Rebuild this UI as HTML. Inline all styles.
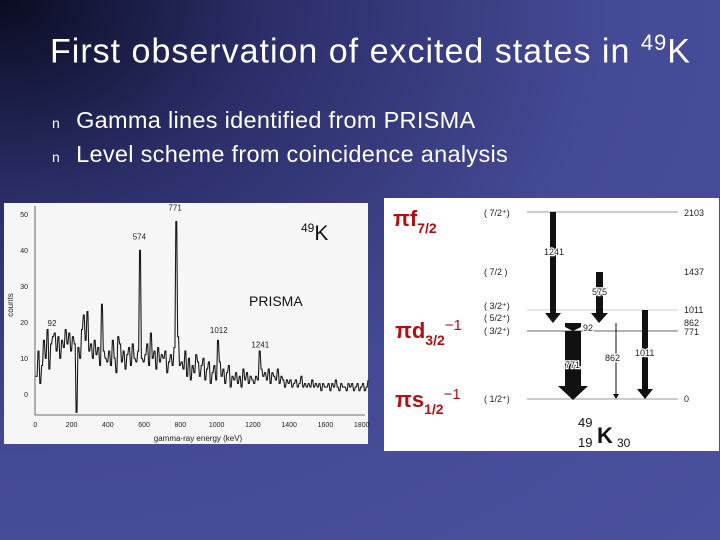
<!DOCTYPE html>
<html><head><meta charset="utf-8">
<style>
html,body{margin:0;padding:0}
body{width:720px;height:540px;overflow:hidden;position:relative;font-family:"Liberation Sans",sans-serif;
background:radial-gradient(ellipse at 0% 0%,#0a0c22 0%,#2a2d66 25%,#454a96 60%,#4b509e 100%);}
.t{position:absolute;color:#fff;white-space:nowrap}
</style></head><body>
<div class="t" style="left:50px;top:30px;font-size:34px;letter-spacing:1px">First observation of excited states in <sup style="font-size:22px">49</sup>K</div>
<div class="t" style="left:52px;top:107px;font-size:23.5px;letter-spacing:0.3px"><span style="font-size:14px;margin-right:16px">n</span>Gamma lines identified from PRISMA</div>
<div class="t" style="left:52px;top:141px;font-size:23.5px;letter-spacing:0.3px"><span style="font-size:14px;margin-right:16px">n</span>Level scheme from coincidence analysis</div>

<svg style="position:absolute;left:0;top:0" width="720" height="540">
<rect x="4" y="203" width="364" height="241" fill="#f6f6f6"/>
<g id="plot"></g>
</svg>

<svg style="position:absolute;left:0;top:0" width="720" height="540" font-family="Liberation Sans, sans-serif">
<rect x="384" y="198" width="335" height="253" fill="#fff"/>
<g fill="#b01010" font-weight="bold" font-size="22">
<text x="393" y="226">πf<tspan font-size="14" dy="7">7/2</tspan></text>
<text x="395" y="338">πd<tspan font-size="14" dy="7">3/2</tspan><tspan font-size="15" font-weight="normal" dy="-15">−1</tspan></text>
<text x="395" y="407">πs<tspan font-size="14" dy="7">1/2</tspan><tspan font-size="15" font-weight="normal" dy="-15">−1</tspan></text>
</g>
<g stroke="#999" stroke-width="1">
<line x1="527" y1="212" x2="678" y2="212"/><line x1="527" y1="310" x2="678" y2="310" stroke="#ccc"/>
<line x1="527" y1="331" x2="678" y2="331" stroke="#666"/><line x1="527" y1="399" x2="678" y2="399"/>
</g>
<g font-size="9" fill="#222">
<text x="484" y="216">( 7/2⁺)</text><text x="484" y="275">( 7/2 )</text><text x="484" y="309">( 3/2⁺)</text>
<text x="484" y="321">( 5/2⁺)</text><text x="484" y="334">( 3/2⁺)</text><text x="484" y="402">( 1/2⁺)</text>
<text x="684" y="216">2103</text><text x="684" y="275">1437</text><text x="684" y="313">1011</text>
<text x="684" y="326">862</text><text x="684" y="335">771</text><text x="684" y="402">0</text>
</g>
<g fill="#111">
<rect x="550" y="212" width="6" height="102"/><polygon points="545,313 561,313 553,323"/>
<rect x="596" y="272" width="7" height="42"/><polygon points="591,313 608,313 599,323"/>
<polygon points="565,323 581,323 581,327 573,331 565,327"/>
<rect x="565" y="331" width="16" height="56"/><polygon points="558,386 588,386 573,400"/>
<line x1="616" y1="323" x2="616" y2="396" stroke="#111" stroke-width="1"/><polygon points="613,394 619,394 616,399"/>
<rect x="642" y="310" width="6" height="80"/><polygon points="637,389 653,389 645,399"/>
</g>
<g font-size="9" fill="#222" stroke="#fff" stroke-width="2.5" paint-order="stroke">
<text x="544" y="255">1241</text>
<text x="592" y="295">575</text><text x="583" y="331">92</text>
<text x="565" y="368">771</text><text x="605" y="361">862</text><text x="635" y="356">1011</text>
</g>
<text x="578" y="427" font-size="13" fill="#111">49</text><text x="578" y="447" font-size="13" fill="#111">19</text>
<text x="597" y="443" font-size="22" font-weight="bold" fill="#111">K</text><text x="617" y="447" font-size="12" fill="#111">30</text>
</svg>

<script>
const binWidth = 10;
const counts = [5,12,3,8,15,10,18,7,14,16, 17,12,16,10,15,13,18,14,17,12, 16,14,-5,13,10,18,22,15,23,12,
14,10,15,11,13,8,25,12,10,9, 12,8,15,10,6,16,14,9,12,7, 11,13,8,14,10,9,12,40,10,9,
11,14,8,17,10,12,7,13,9,11, 10,12,6,9,11,8,13,48,16,8, 9,7,12,5,10,4,8,6,11,9,
5,8,10,4,7,9,3,6,8,4, 15,9,5,7,3,6,8,2,5,4, 6,3,5,2,7,4,6,3,5,4,
3,5,4,12,7,5,6,4,7,3, 6,5,4,7,3,5,4,2,4,3, 4,2,3,4,2,3,5,2,3,2,
3,2,4,2,3,2,3,1,3,2, 2,3,1,3,2,4,2,1,3,2, 2,1,3,2,3,1,2,3,1,2, 3,1,2,4];
const xTicks = [0,200,400,600,800,1000,1200,1400,1600,1800];
const yTicks = [0,10,20,30,40,50];
const peakLabels = ["92","574","771","1012","1241"];
const peakEnergies = [92,574,771,1012,1241];
const peakCounts = [19,43,51,17,13];

const NS="http://www.w3.org/2000/svg";
const g=document.getElementById('plot');
const X=e=>35.3+e*(326.4/1800);
const Y=c=>394.3-c*3.6;
function mk(tag,attrs){const el=document.createElementNS(NS,tag);for(const k in attrs)el.setAttribute(k,attrs[k]);g.appendChild(el);return el;}
let pts=[];
counts.forEach((c,i)=>{const y=Math.min(Y(c),415);const yp=i>0?Math.min(Y(counts[i-1]),415):y;pts.push(X(i*binWidth)+','+yp,X(i*binWidth+binWidth*0.5)+','+y);});
const line=mk('polyline',{points:pts.join(' '),fill:'none',stroke:'#1a1a1a','stroke-width':1.1});


const ax=mk('polyline',{points:'35,206 35,415 365,415',fill:'none',stroke:'#444','stroke-width':0.8});


xTicks.forEach(v=>{const t=mk('text',{x:X(v),y:427,'font-size':7,'text-anchor':'middle',fill:'#222','font-family':'Liberation Sans'});t.textContent=v;

});
yTicks.forEach(v=>{const t=mk('text',{x:28,y:Y(v)+2.5,'font-size':7,'text-anchor':'end',fill:'#222','font-family':'Liberation Sans'});t.textContent=v;

});
peakLabels.forEach((s,i)=>{const t=mk('text',{x:X(peakEnergies[i]),y:Y(peakCounts[i]),'font-size':8,'text-anchor':'middle',fill:'#222','font-family':'Liberation Sans'});t.textContent=s;

});
let t=mk('text',{x:198,y:441,'font-size':8,'text-anchor':'middle',fill:'#222','font-family':'Liberation Sans'});t.textContent='gamma-ray energy (keV)';


t=mk('text',{x:13,y:305,'font-size':8,'text-anchor':'middle',fill:'#222','font-family':'Liberation Sans',transform:'rotate(-90 13 305)'});t.textContent='counts';


t=mk('text',{x:249,y:306,'font-size':14,fill:'#111','font-family':'Liberation Sans'});t.textContent='PRISMA';


t=mk('text',{x:301,y:240,'font-size':21,fill:'#111','font-family':'Liberation Sans'});t.innerHTML='<tspan font-size="12" dy="-8">49</tspan><tspan dy="8">K</tspan>';


</script>
</body></html>
